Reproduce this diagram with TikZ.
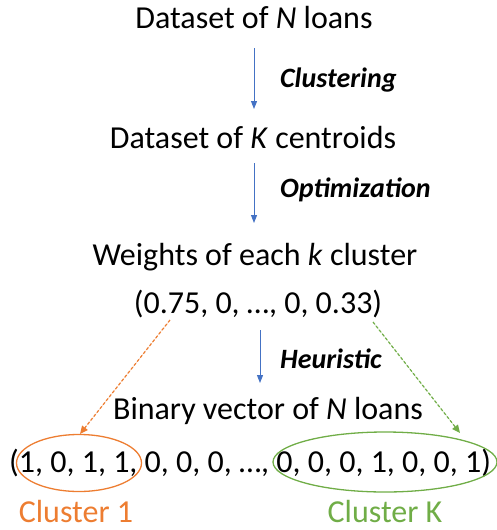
\documentclass[tikz,border=0pt]{standalone}
\usepackage{fontspec}
\setmainfont{Carlito}
\usetikzlibrary{arrows.meta,shapes.geometric}
\definecolor{cblue}{HTML}{4472C4}
\definecolor{corange}{HTML}{ED7D31}
\definecolor{cgreen}{HTML}{70AD47}
\begin{document}
\begin{tikzpicture}[x=1pt,y=-1pt,
  maintxt/.style={inner sep=0pt,font=\fontsize{32}{36}\selectfont},
  lbl/.style={inner sep=0pt,anchor=west,font=\fontsize{28}{32}\selectfont\bfseries\itshape},
  flow/.style={draw=cblue,line width=1pt,-{Triangle[length=8pt,width=6pt]}},
  dasharr/.style={line width=1.2pt,dashed,dash pattern=on 3pt off 2pt,-{Triangle[length=8pt,width=7pt]}}]
\useasboundingbox (0,0) rectangle (497,530);
\node[maintxt] (n1) at (254,18) {Dataset of \textit{N} loans};
\node[maintxt] (n2) at (253,138) {Dataset of \textit{K} centroids};
\node[maintxt] (n3) at (255,257) {Weights of each \textit{k} cluster};
\node[maintxt] (n4) at (258,304) {(0.75, 0, …, 0, 0.33)};
\node[maintxt] (n5) at (268,411) {Binary vector of \textit{N} loans};
\node[maintxt] (n6) at (250,463) {(1, 0, 1, 1, 0, 0, 0, …, 0, 0, 0, 1, 0, 0, 1)};
\coordinate (a1s) at (254,48); \coordinate (a1e) at (254,109);
\coordinate (a2s) at (254,163); \coordinate (a2e) at (254,223);
\coordinate (a3s) at (260,330); \coordinate (a3e) at (260,383);
\draw[flow] (a1s) -- (a1e);
\draw[flow] (a2s) -- (a2e);
\draw[flow] (a3s) -- (a3e);
\node[lbl] (l1) at (280,80) {Clustering};
\node[lbl] (l2) at (280,190) {Optimization};
\node[lbl] (l3) at (280,359) {Heuristic};
\node[draw=corange,line width=1.3pt,ellipse,minimum width=125pt,minimum height=57pt,inner sep=0pt] (e1) at (79,463) {};
\node[draw=cgreen,line width=1.3pt,ellipse,minimum width=224pt,minimum height=60pt,inner sep=0pt] (e2) at (385,462) {};
\coordinate (o1) at (170,320); \coordinate (o2) at (80,434);
\coordinate (g1) at (373,322); \coordinate (g2) at (460,433);
\draw[dasharr,draw=corange,fill=corange] (o1) -- (o2);
\draw[dasharr,draw=cgreen,fill=cgreen] (g1) -- (g2);
\node[maintxt,text=corange] (c1) at (76,512) {Cluster 1};
\node[maintxt,text=cgreen] (c2) at (385,512) {Cluster K};
\end{tikzpicture}
\end{document}
